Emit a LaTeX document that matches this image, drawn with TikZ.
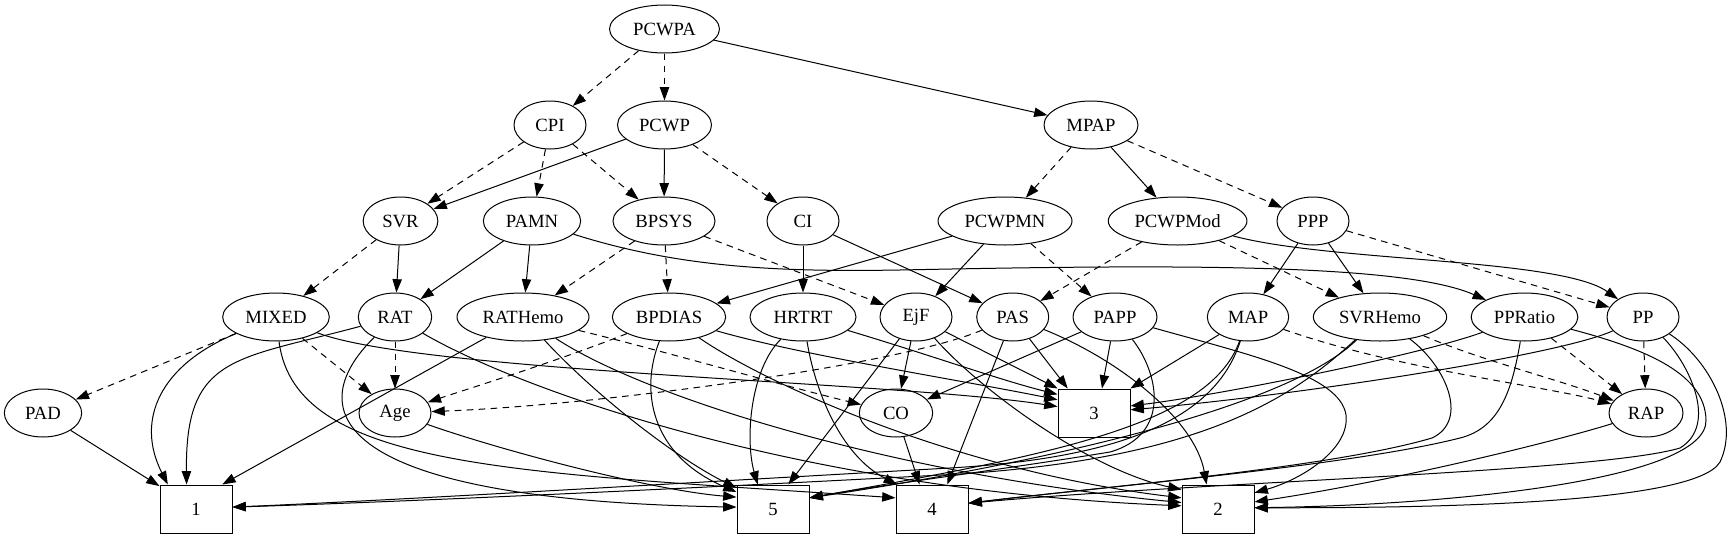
\documentclass[tikz,border=0pt]{standalone}
\usepackage{fontspec}
\setmainfont{Liberation Serif}
\usetikzlibrary{arrows.meta,shapes.geometric}
\begin{document}
\begin{tikzpicture}[x=0.75pt,y=-0.75pt,
  ell/.style={ellipse, draw, line width=0.75pt, inner sep=0pt, minimum height=36pt, font=\fontsize{14pt}{16pt}\selectfont},
  bx/.style={rectangle, draw, line width=0.75pt, minimum width=54pt, minimum height=36pt, inner sep=0pt, font=\fontsize{14pt}{16pt}\selectfont},
  ed/.style={draw, line width=0.75pt, -{Triangle[length=10pt,width=7pt]}},
  dd/.style={ed, dash pattern=on 5pt off 4pt}]
\useasboundingbox (0,0) rectangle (1734,539);
% row 0
\node[ell, minimum width=82.5pt] (PCWPA) at (664.5,29) {PCWPA};
% row 1
\node[ell, minimum width=54pt] (CPI) at (550,125) {CPI};
\node[ell, minimum width=70.5pt] (PCWP) at (664.5,125) {PCWP};
\node[ell, minimum width=70.5pt] (MPAP) at (1091,125) {MPAP};
% row 2
\node[ell, minimum width=56pt] (SVR) at (400.5,221) {SVR};
\node[ell, minimum width=73pt] (PAMN) at (532,221) {PAMN};
\node[ell, minimum width=76.5pt] (BPSYS) at (664,221) {BPSYS};
\node[ell, minimum width=54pt] (CI) at (803,221) {CI};
\node[ell, minimum width=100.5pt] (PCWPMN) at (1005,221) {PCWPMN};
\node[ell, minimum width=104pt] (PCWPMod) at (1177.6,221) {PCWPMod};
\node[ell, minimum width=54pt] (PPP) at (1313,221) {PPP};
% row 3
\node[ell, minimum width=80pt] (MIXED) at (276,317) {MIXED};
\node[ell, minimum width=55pt] (RAT) at (395,317) {RAT};
\node[ell, minimum width=99pt] (RATHemo) at (523,317) {RATHemo};
\node[ell, minimum width=85pt] (BPDIAS) at (669,317) {BPDIAS};
\node[ell, minimum width=79.5pt] (HRTRT) at (803,317) {HRTRT};
\node[ell, minimum width=54pt] (EjF) at (916,317) {EjF};
\node[ell, minimum width=54pt] (PAS) at (1012.7,317) {PAS};
\node[ell, minimum width=63pt] (PAPP) at (1115,317) {PAPP};
\node[ell, minimum width=61pt] (MAP) at (1248,317) {MAP};
\node[ell, minimum width=100pt] (SVRHemo) at (1380,317) {SVRHemo};
\node[ell, minimum width=80pt] (PPRatio) at (1524.5,317) {PPRatio};
\node[ell, minimum width=54pt] (PP) at (1643,317) {PP};
% row 4
\node[ell, minimum width=58pt] (PAD) at (43,413) {PAD};
\node[ell, minimum width=54pt] (Age) at (395,413) {Age};
\node[ell, minimum width=55pt] (CO) at (896,413) {CO};
\node[bx] (B3) at (1094,413) {3};
\node[ell, minimum width=55.5pt] (RAP) at (1646,413) {RAP};
% row 5
\node[bx] (B1) at (196,509) {1};
\node[bx] (B5) at (773,509) {5};
\node[bx] (B4) at (932,509) {4};
\node[bx] (B2) at (1218,509) {2};
% top edges
\draw[dd] (PCWPA) -- (CPI);
\draw[dd] (PCWPA) -- (PCWP);
\draw[ed] (PCWPA) -- (MPAP);
\draw[dd] (CPI) -- (SVR);
\draw[dd] (CPI) -- (PAMN);
\draw[dd] (CPI) -- (BPSYS);
\draw[ed] (PCWP) -- (SVR);
\draw[ed] (PCWP) -- (BPSYS);
\draw[dd] (PCWP) -- (CI);
\draw[dd] (MPAP) -- (PCWPMN);
\draw[ed] (MPAP) -- (PCWPMod);
\draw[dd] (MPAP) -- (PPP);
\draw[dd] (SVR) -- (MIXED);
\draw[ed] (SVR) -- (RAT);
\draw[ed] (PAMN) -- (RAT);
\draw[ed] (PAMN) -- (RATHemo);
\draw[ed] (PAMN) .. controls (680,268) and (780,272) .. (900,270) .. controls (1150,265) and (1400,262) .. (PPRatio);
\draw[dd] (BPSYS) -- (RATHemo);
\draw[dd] (BPSYS) -- (BPDIAS);
\draw[dd] (BPSYS) -- (EjF);
\draw[ed] (CI) -- (HRTRT);
\draw[ed] (CI) -- (PAS);
\draw[ed] (PCWPMN) -- (BPDIAS);
\draw[ed] (PCWPMN) -- (EjF);
\draw[dd] (PCWPMN) -- (PAPP);
\draw[dd] (PCWPMod) -- (PAS);
\draw[dd] (PCWPMod) -- (SVRHemo);
\draw[ed] (PCWPMod) .. controls (1330,262) and (1560,258) .. (PP);
\draw[ed] (PPP) -- (MAP);
\draw[ed] (PPP) -- (SVRHemo);
\draw[dd] (PPP) -- (PP);
% row 3 edges
\draw[dd] (MIXED) -- (PAD);
\draw[ed] (MIXED) .. controls (160,365) and (135,420) .. (B1.139);
\draw[dd] (MIXED) -- (Age);
\draw[ed] (MIXED) .. controls (420,372) and (900,382) .. (B3.170);
\draw[ed] (MIXED) .. controls (295,470) and (520,472) .. (B4.163);
\draw[ed] (RAT) .. controls (235,360) and (185,355) .. (B1.111);
\draw[dd] (RAT) -- (Age);
\draw[ed] (RAT) .. controls (300,410) and (330,500) .. (B5.177);
\draw[ed] (RAT) .. controls (520,390) and (800,490) .. (B2.175);
\draw[ed] (RATHemo) -- (B1.43);
\draw[ed] (RATHemo) .. controls (600,400) and (680,460) .. (B5.150);
\draw[ed] (RATHemo) .. controls (650,400) and (900,475) .. (B2.170);
\draw[dd] (RATHemo) .. controls (660,350) and (780,385) .. (CO);
\draw[dd] (BPDIAS) .. controls (560,360) and (480,385) .. (Age);
\draw[ed] (BPDIAS) .. controls (800,355) and (960,380) .. (B3.160);
\draw[ed] (BPDIAS) .. controls (640,390) and (650,455) .. (B5.155);
\draw[ed] (BPDIAS) .. controls (760,380) and (950,470) .. (B2.163);
\draw[ed] (HRTRT) .. controls (930,355) and (1000,380) .. (B3.153);
\draw[ed] (HRTRT) .. controls (750,370) and (745,440) .. (B5.122);
\draw[ed] (HRTRT) .. controls (815,390) and (840,455) .. (B4.145);
\draw[ed] (EjF) -- (CO);
\draw[ed] (EjF) -- (B3.146);
\draw[ed] (EjF) -- (B5.58);
\draw[ed] (EjF) .. controls (980,390) and (1090,470) .. (B2.152);
\draw[ed] (PAS) -- (B3.137);
\draw[ed] (PAS) .. controls (1120,360) and (1195,420) .. (B2.115);
\draw[ed] (PAS) -- (B4.58);
\draw[dd] (PAS) .. controls (900,365) and (600,405) .. (Age);
\draw[ed] (PAPP) -- (CO);
\draw[ed] (PAPP) -- (B3.72);
\draw[ed] (PAPP) .. controls (1160,375) and (1170,435) .. (1110,452) .. controls (1000,470) and (880,485) .. (B5.17);
\draw[ed] (PAPP) .. controls (1250,355) and (1340,375) .. (1346,415) .. controls (1350,450) and (1300,480) .. (B2.24);
\draw[ed] (MAP) -- (B3.34);
\draw[dd] (MAP) .. controls (1400,370) and (1540,385) .. (RAP);
\draw[ed] (MAP) .. controls (1215,420) and (1120,458) .. (950,468) .. controls (700,482) and (400,500) .. (B1.3);
\draw[ed] (MAP) .. controls (1210,425) and (1050,455) .. (B5.17);
\draw[ed] (SVRHemo) .. controls (1290,400) and (1200,458) .. (960,474) .. controls (700,488) and (400,502) .. (B1.3);
\draw[ed] (SVRHemo) .. controls (1290,405) and (1060,460) .. (B5.17);
\draw[dd] (SVRHemo) .. controls (1480,360) and (1560,380) .. (RAP);
\draw[ed] (SVRHemo) .. controls (1445,365) and (1470,420) .. (1432,438) .. controls (1330,468) and (1100,487) .. (B4.9);
\draw[ed] (PPRatio) .. controls (1420,355) and (1220,395) .. (B3.11);
\draw[dd] (PPRatio) -- (RAP);
\draw[ed] (PPRatio) .. controls (1512,390) and (1500,428) .. (1460,438) .. controls (1350,466) and (1100,487) .. (B4.9);
\draw[ed] (PPRatio) .. controls (1650,350) and (1705,375) .. (1706,420) .. controls (1708,480) and (1450,505) .. (B2.2);
\draw[ed] (PP) .. controls (1560,355) and (1300,395) .. (B3.5);
\draw[dd] (PP) -- (RAP);
\draw[ed] (PP) .. controls (1690,365) and (1718,425) .. (1680,448) .. controls (1600,472) and (1200,482) .. (B4.9);
\draw[ed] (PP) .. controls (1710,360) and (1740,420) .. (1720,462) .. controls (1695,505) and (1420,508) .. (B2.2);
\draw[ed] (RAP) .. controls (1560,440) and (1400,480) .. (B2.11);
\draw[ed] (Age) .. controls (500,450) and (650,490) .. (B5.162);
\draw[ed] (CO) -- (B4.117);
\draw[ed] (PAD) -- (B1);
\end{tikzpicture}
\end{document}
